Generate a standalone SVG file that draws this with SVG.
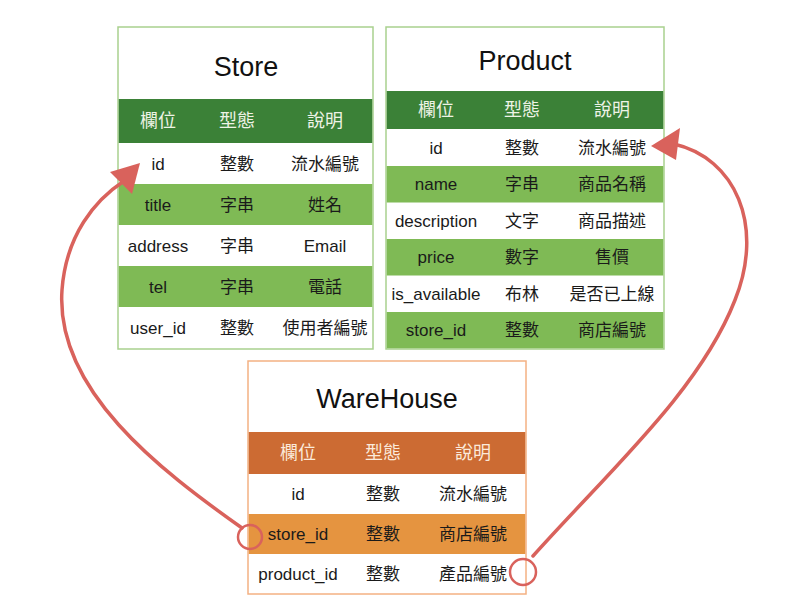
<svg xmlns="http://www.w3.org/2000/svg" width="800" height="609" viewBox="0 0 800 609">
<style>
text{font-family:"Liberation Sans","Noto Sans CJK TC",sans-serif;text-anchor:middle;}
.title{font-size:27px;fill:#111;}
.hd{font-size:18px;fill:#eef3e6;}
.hdo{font-size:18px;fill:#fbeadb;}
.c{font-size:17px;fill:#1a1a1a;}
.gb{fill:#ffffff;stroke:#a9d18e;stroke-width:1.5;}
.ob{fill:#ffffff;stroke:#f4b183;stroke-width:1.5;}
.gh{fill:#3b8137;}
.gr{fill:#7fba55;}
.oh{fill:#cc6b33;}
.or{fill:#e59440;}
.conn{fill:none;stroke:#d9625c;stroke-width:3.5;stroke-linecap:round;}
.ring{fill:none;stroke:#d9625c;stroke-width:2.5;}
.head{fill:#d9625c;}
</style>

<g id="store">
<rect class="gb" x="118" y="27" width="255" height="322"/>
<text class="title" x="246" y="76">Store</text>
<rect class="gh" x="118.75" y="99" width="253.5" height="44"/>
<rect class="gr" x="118.75" y="184" width="253.5" height="41"/>
<rect class="gr" x="118.75" y="266" width="253.5" height="41"/>
<text class="hd" x="158" y="127">欄位</text>
<text class="hd" x="237" y="127">型態</text>
<text class="hd" x="325" y="127">說明</text>
<text class="c" x="158" y="170">id</text>
<text class="c" x="237" y="170">整數</text>
<text class="c" x="325" y="170">流水編號</text>
<text class="c" x="158" y="211">title</text>
<text class="c" x="237" y="211">字串</text>
<text class="c" x="325" y="211">姓名</text>
<text class="c" x="158" y="252">address</text>
<text class="c" x="237" y="252">字串</text>
<text class="c" x="325" y="252">Email</text>
<text class="c" x="158" y="293">tel</text>
<text class="c" x="237" y="293">字串</text>
<text class="c" x="325" y="293">電話</text>
<text class="c" x="158" y="334">user_id</text>
<text class="c" x="237" y="334">整數</text>
<text class="c" x="325" y="334">使用者編號</text>
</g>

<g id="product">
<rect class="gb" x="386" y="27" width="278" height="322"/>
<text class="title" x="525" y="70">Product</text>
<rect class="gh" x="386.75" y="91" width="276.5" height="38"/>
<rect class="gr" x="386.75" y="166" width="276.5" height="36.5"/>
<rect class="gr" x="386.75" y="239" width="276.5" height="36.5"/>
<rect class="gr" x="386.75" y="312" width="276.5" height="36.25"/>
<text class="hd" x="436" y="116">欄位</text>
<text class="hd" x="522" y="116">型態</text>
<text class="hd" x="612" y="116">說明</text>
<text class="c" x="436" y="154">id</text>
<text class="c" x="522" y="154">整數</text>
<text class="c" x="612" y="154">流水編號</text>
<text class="c" x="436" y="190">name</text>
<text class="c" x="522" y="190">字串</text>
<text class="c" x="612" y="190">商品名稱</text>
<text class="c" x="436" y="227">description</text>
<text class="c" x="522" y="227">文字</text>
<text class="c" x="612" y="227">商品描述</text>
<text class="c" x="436" y="263">price</text>
<text class="c" x="522" y="263">數字</text>
<text class="c" x="612" y="263">售價</text>
<text class="c" x="436" y="300">is_available</text>
<text class="c" x="522" y="300">布林</text>
<text class="c" x="612" y="300">是否已上線</text>
<text class="c" x="436" y="336">store_id</text>
<text class="c" x="522" y="336">整數</text>
<text class="c" x="612" y="336">商店編號</text>
</g>

<g id="warehouse">
<rect class="ob" x="248" y="361" width="278" height="233"/>
<text class="title" x="387" y="408">WareHouse</text>
<rect class="oh" x="248.75" y="432" width="276.5" height="42"/>
<rect class="or" x="248.75" y="514" width="276.5" height="40"/>
<text class="hdo" x="298" y="459">欄位</text>
<text class="hdo" x="383" y="459">型態</text>
<text class="hdo" x="473" y="459">說明</text>
<text class="c" x="298" y="500">id</text>
<text class="c" x="383" y="500">整數</text>
<text class="c" x="473" y="500">流水編號</text>
<text class="c" x="298" y="540">store_id</text>
<text class="c" x="383" y="540">整數</text>
<text class="c" x="473" y="540">商店編號</text>
<text class="c" x="298" y="580">product_id</text>
<text class="c" x="383" y="580">整數</text>
<text class="c" x="473" y="580">產品編號</text>
</g>

<g id="connectors">
<circle class="ring" cx="250" cy="537" r="12"/>
<path class="conn" d="M 242 528 C 160 470, 55 390, 62 290 C 66 235, 95 200, 124 181"/>
<polygon class="head" points="140,163 110,172 132,194"/>
<circle class="ring" cx="523" cy="572" r="13"/>
<path class="conn" d="M 533 556 C 610 470, 700 390, 735 300 C 765 225, 735 158, 674 144"/>
<polygon class="head" points="651,146 680,128 676,160"/>
</g>
</svg>
